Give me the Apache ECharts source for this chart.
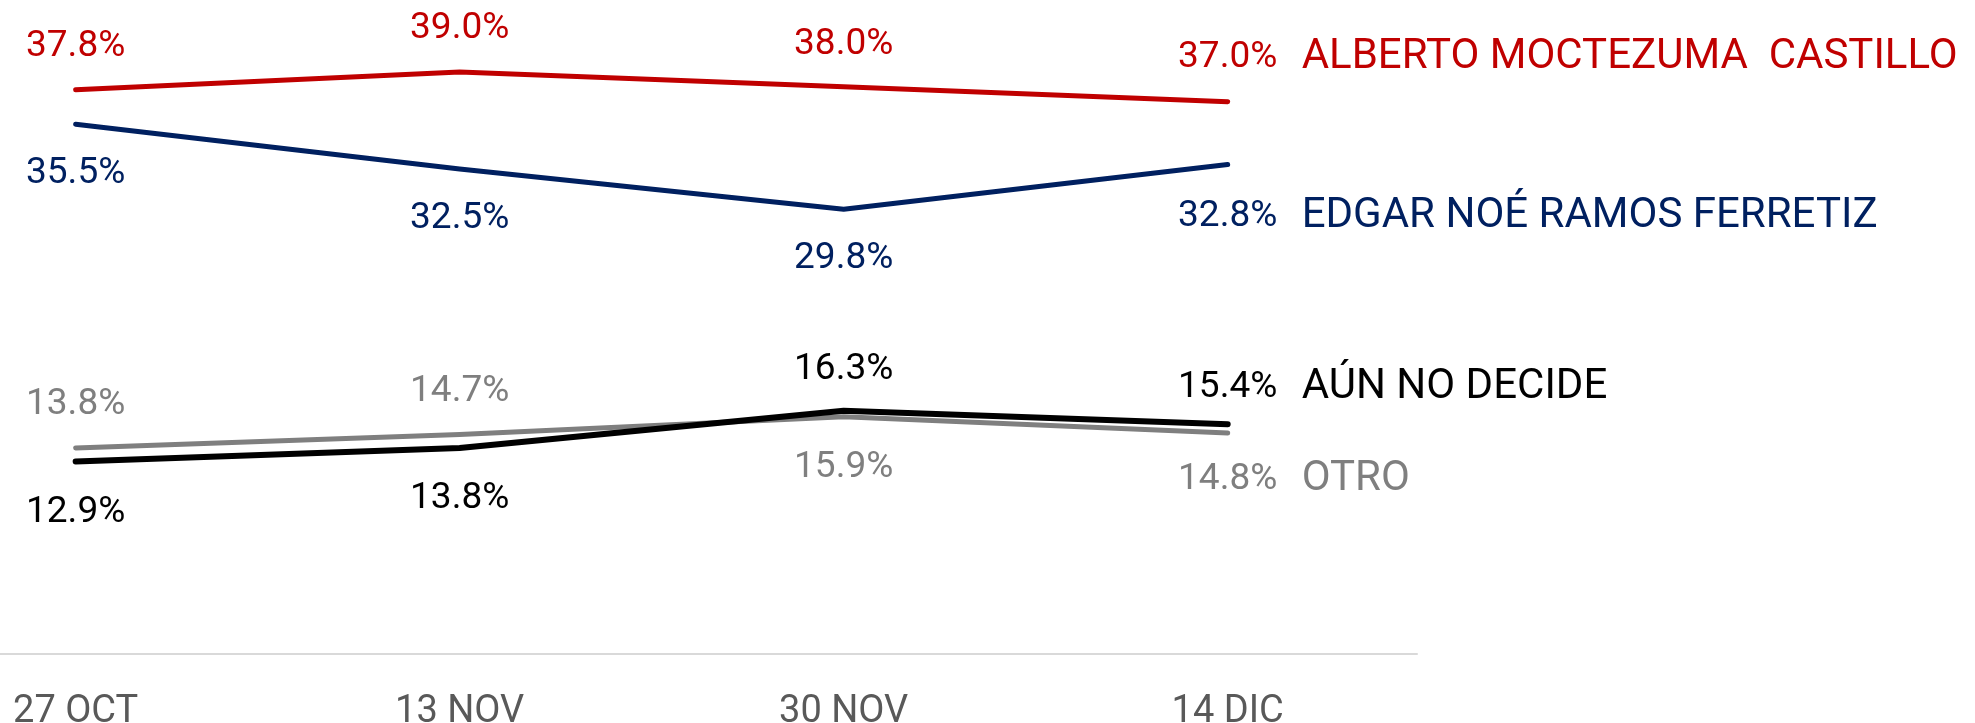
<!DOCTYPE html>
<html>
<head>
<meta charset="utf-8">
<script src="https://cdn.jsdelivr.net/npm/echarts@6/dist/echarts.min.js"></script>
<style>
  html, body { margin: 0; padding: 0; background: #ffffff; }
  #chart { width: 1975px; height: 723px; }
</style>
</head>
<body>
<div id="chart"></div>
<script>
// Survey dates
const categories = ['27 OCT', '13 NOV', '30 NOV', '14 DIC'];

// Voting intention per option (%)
const alberto = [37.8, 39.0, 38.0, 37.0];
const edgar = [35.5, 32.5, 29.8, 32.8];
const otro = [13.8, 14.7, 15.9, 14.8];
const noDecide = [12.9, 13.8, 16.3, 15.4];

const seriesNames = ['ALBERTO MOCTEZUMA  CASTILLO', 'EDGAR NOÉ RAMOS FERRETIZ', 'OTRO', 'AÚN NO DECIDE'];

const FONT = 'Roboto';

// label placement per point: side of the line and gap to it
function makeSeries(name, values, color, sides, gaps, width, z) {
  const last = values.length - 1;
  return {
    name: name,
    type: 'line',
    z: z,
    symbol: 'circle',
    symbolSize: 1,
    showSymbol: true,
    itemStyle: { color: color },
    lineStyle: { color: color, width: width, cap: 'round', join: 'round' },
    data: values.map(function (v, i) {
      const top = sides[i] === 't';
      const item = {
        value: [i, v],
        label: {
          show: true,
          position: top ? 'top' : 'bottom',
          distance: gaps[i],
          color: color,
          fontFamily: FONT,
          fontSize: 37,
          formatter: function (p) { return p.value[1].toFixed(1) + '%'; }
        }
      };
      if (i === last) {
        // closing value followed by the option name
        item.label.align = 'left';
        item.label.offset = [-52, 0];
        item.label.formatter = function (p) {
          return '{v|' + p.value[1].toFixed(1) + '%}{n|' + name + '}';
        };
        item.label.rich = {
          v: { width: 104, align: 'center', fontSize: 37, fontFamily: FONT, color: color },
          n: { padding: [0, 0, 0, 22], fontSize: 42, fontFamily: FONT, color: color }
        };
      }
      return item;
    })
  };
}

const chart = echarts.init(document.getElementById('chart'), null, { renderer: 'canvas' });

chart.setOption({
  backgroundColor: '#ffffff',
  animation: false,
  grid: { left: 0, right: 558, top: 57, bottom: 69, containLabel: false, outerBoundsMode: 'none' },
  xAxis: {
    type: 'value',
    min: -0.197,
    max: 3.493,
    splitLine: { show: false },
    axisTick: { show: false },
    axisLine: { show: true, onZero: false, lineStyle: { color: '#D9D9D9', width: 2 } },
    axisLabel: {
      customValues: [0, 1, 2, 3],
      formatter: function (v) { return categories[Math.round(v)]; },
      color: '#595959',
      fontFamily: FONT,
      fontSize: 38,
      margin: 39
    }
  },
  yAxis: {
    type: 'value',
    min: 0,
    max: 40,
    show: false
  },
  series: [
    makeSeries(seriesNames[0], alberto, '#C00000', ['t', 't', 't', 't'], [24, 24, 23, 23], 5, 4),
    makeSeries(seriesNames[1], edgar, '#002060', ['b', 'b', 'b', 'b'], [31, 31, 31, 31], 5, 3),
    makeSeries(seriesNames[2], otro, '#7F7F7F', ['t', 't', 'b', 'b'], [24, 24, 32, 25], 5, 1),
    makeSeries(seriesNames[3], noDecide, '#000000', ['b', 'b', 't', 't'], [32, 32, 22, 15], 6, 2)
  ]
});
</script>
</body>
</html>
